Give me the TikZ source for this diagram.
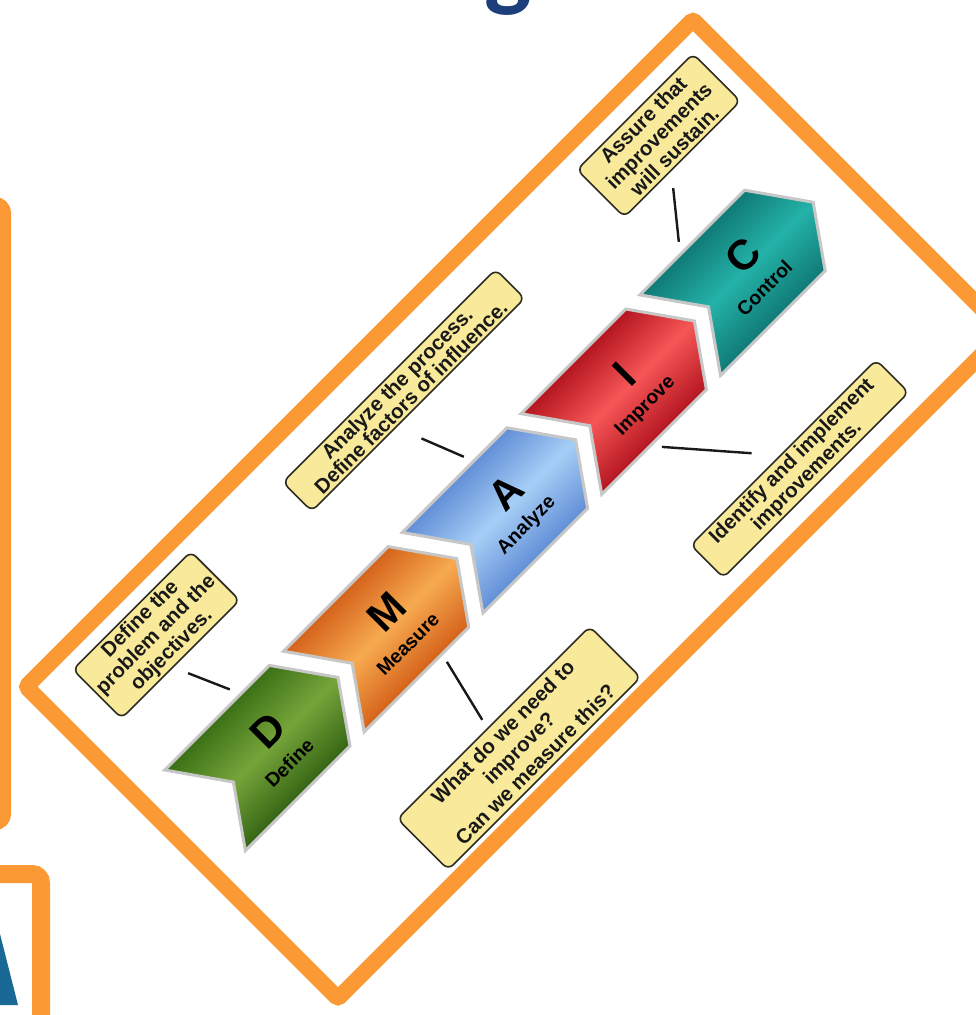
\documentclass[tikz,border=0pt]{standalone}
\usepackage{fontspec}
\setmainfont{Liberation Sans}
\newfontfamily\titlefont{Carlito}
\usetikzlibrary{calc}

\definecolor{frameorange}{RGB}{251,154,52}
\definecolor{notefill}{RGB}{249,234,155}
\definecolor{noteline}{RGB}{45,45,35}
\definecolor{titleblue}{RGB}{28,62,122}
\definecolor{logoblue}{RGB}{26,104,150}
% chevron colours: dark edge / light centre
\definecolor{dDark}{RGB}{58,112,22}
\definecolor{dLight}{RGB}{118,164,58}
\definecolor{mDark}{RGB}{212,98,26}
\definecolor{mLight}{RGB}{247,170,80}
\definecolor{aDark}{RGB}{98,142,214}
\definecolor{aLight}{RGB}{166,206,246}
\definecolor{iDark}{RGB}{180,22,32}
\definecolor{iLight}{RGB}{246,86,86}
\definecolor{cDark}{RGB}{16,122,117}
\definecolor{cLight}{RGB}{36,178,168}

\tikzset{
  frameline/.style={draw=frameorange, line width=16pt, rounded corners=3pt},
  note/.style={draw=noteline, line width=1.6pt, fill=notefill, rounded corners=7pt,
    inner sep=0pt, align=center, text=black!90,
    font=\bfseries\fontsize{20.5}{22}\selectfont},
  chev/.style={draw=black!22, line width=3pt},
  letter/.style={font=\bfseries\fontsize{42}{42}\selectfont, inner sep=0pt},
  word/.style={font=\bfseries\fontsize{19.5}{19.5}\selectfont, inner sep=0pt},
  link/.style={draw=black!90, line width=2.4pt},
  chevron/.pic={
    \path[pic actions] (0,0) -- (148,0) -- (188,-57) -- (148,-114)
      -- (0,-114) -- (40,-57) -- cycle;
  },
}

\begin{document}
\begin{tikzpicture}[x=1pt,y=1pt]
\useasboundingbox (0,0) rectangle (976,-1015);
\clip (0,0) rectangle (976,-1015);
\fill[white] (0,0) rectangle (976,-1015);

% slide title (mostly above the page edge)
\node[font=\titlefont\bfseries\fontsize{100}{100}\selectfont, text=titleblue,
  anchor=base, inner sep=0pt] (ttl) at (508,2) {g};

% neighbouring panels
\draw[frameorange, line width=16pt, rounded corners=8pt] (-300,-205) rectangle (3,-822);
\draw[draw=frameorange, fill=white, line width=18pt, rounded corners=9pt]
  (-300,-874) rectangle (41,-1200);
\fill[logoblue] (-2,-926) -- (18,-1005) -- (-2,-1005) -- cycle;

% tilted DMAIC panel
\begin{scope}[transform canvas={rotate=45}]
  \draw[frameline, fill=white] (-467,-945) rectangle (476,-504);

  % chevrons
  \pic[chev, top color=dDark, bottom color=dDark!90!black, middle color=dLight] at (-428,-661) {chevron};
  \pic[chev, top color=mDark, bottom color=mDark, middle color=mLight] at (-260,-661) {chevron};
  \pic[chev, top color=aDark, bottom color=aDark, middle color=aLight] at (-92,-661) {chevron};
  \pic[chev, top color=iDark, bottom color=iDark, middle color=iLight] at (76,-661) {chevron};
  \pic[chev, top color=cDark, bottom color=cDark, middle color=cLight] at (244,-661) {chevron};

  \node[letter] (dL) at (-327,-706) {D};
  \node[word]   (dW) at (-335,-744) {Define};
  \node[letter] (mL) at (-159,-706) {M};
  \node[word]   (mW) at (-167,-744) {Measure};
  \node[letter] (aL) at (9,-706) {A};
  \node[word]   (aW) at (1,-744) {Analyze};
  \node[letter] (iL) at (177,-706) {I};
  \node[word]   (iW) at (169,-744) {Improve};
  \node[letter] (cL) at (345,-706) {C};
  \node[word]   (cW) at (337,-744) {Control};

  % callouts
  \node[note, minimum width=167pt, minimum height=69pt] (dN) at (-338.5,-559.5)
    {Define the\\problem and the\\objectives.};
  \node[note, minimum width=272pt, minimum height=72pt,
    font=\bfseries\fontsize{20.5}{23}\selectfont] (mN) at (-162,-896)
    {What do we need to\\improve?\\Can we measure this?};
  \node[note, minimum width=301pt, minimum height=41pt,
    font=\bfseries\fontsize{20.5}{19.5}\selectfont] (aN) at (9.5,-561.5)
    {Analyze the process.\\Define factors of influence.};
  \node[note, minimum width=262pt, minimum height=46pt,
    font=\bfseries\fontsize{20.5}{21}\selectfont] (iN) at (234,-897)
    {Identify and implement\\improvements.};
  \node[note, minimum width=164pt, minimum height=67pt] (cN) at (370,-561.5)
    {Assure that\\improvements\\will sustain.};

  % leader lines
  \coordinate (dA) at (-343,-609);  \coordinate (dB) at (-325,-650);
  \coordinate (mA) at (-152,-784);  \coordinate (mB) at (-168,-850);
  \coordinate (aA) at (-12,-608);   \coordinate (aB) at (5,-651);
  \coordinate (iA) at (152,-784);   \coordinate (iB) at (211,-852);
  \coordinate (cA) at (343,-609);   \coordinate (cB) at (309,-651);
  \draw[link] (dA) -- (dB);
  \draw[link] (mA) -- (mB);
  \draw[link] (aA) -- (aB);
  \draw[link] (iA) -- (iB);
  \draw[link] (cA) -- (cB);
\end{scope}
\end{tikzpicture}
\end{document}
